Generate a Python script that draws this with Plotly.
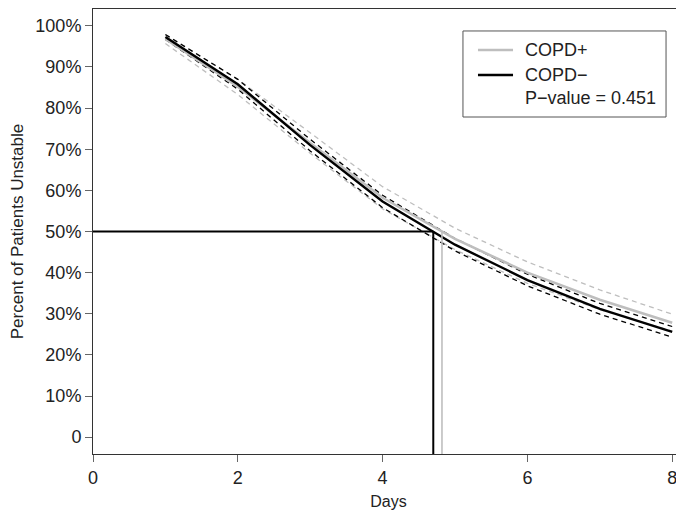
import plotly.graph_objects as go

# Days and percent of patients still unstable
days = [1, 2, 3, 4, 5, 6, 7, 8]

copd_plus = [96.8, 85.2, 71.5, 58.2, 48.2, 40.0, 33.4, 27.8]
copd_plus_lo = [95.7, 83.3, 69.0, 55.5, 45.6, 37.4, 31.0, 25.8]
copd_plus_hi = [97.8, 87.0, 74.0, 60.9, 50.8, 42.6, 35.8, 29.9]

copd_minus = [97.3, 85.8, 71.0, 57.3, 46.8, 38.2, 31.2, 25.6]
copd_minus_lo = [96.7, 84.6, 69.6, 55.8, 45.3, 36.8, 29.9, 24.3]
copd_minus_hi = [97.9, 87.0, 72.4, 58.8, 48.3, 39.6, 32.5, 26.9]

# median time to stability for each group
median_plus = 4.82
median_minus = 4.70
median_level = 50

y_ticks = [0, 10, 20, 30, 40, 50, 60, 70, 80, 90, 100]
y_labels = ["0", "10%", "20%", "30%", "40%", "50%", "60%", "70%", "80%", "90%", "100%"]
x_ticks = [0, 2, 4, 6, 8]

legend_names = ["COPD+", "COPD\u2212"]
p_value_text = "P\u2212value = 0.451"

y_min, y_max = -4.1, 104.1

GRAY = "#bebebe"
FONT = "Liberation Sans, Arial, sans-serif"

fig = go.Figure()

# confidence bands (dashed)
for lo_hi, col in [((copd_plus_lo, copd_plus_hi), GRAY), ((copd_minus_lo, copd_minus_hi), "black")]:
    for band in lo_hi:
        fig.add_scatter(x=days, y=band, mode="lines", showlegend=False, hoverinfo="skip",
                        line=dict(color=col, width=1.3, dash="5px,4px"))

fig.add_scatter(x=days, y=copd_plus, mode="lines", name=legend_names[0], showlegend=False,
                line=dict(color=GRAY, width=2.6))
fig.add_scatter(x=days, y=copd_minus, mode="lines", name=legend_names[1], showlegend=False,
                line=dict(color="black", width=2.4))

# median reference lines
fig.add_scatter(x=[0, median_minus], y=[median_level, median_level], mode="lines",
                showlegend=False, line=dict(color="black", width=1.8))
fig.add_scatter(x=[median_minus, median_minus], y=[median_level, y_min], mode="lines",
                showlegend=False, line=dict(color="black", width=2))
fig.add_scatter(x=[median_plus, median_plus], y=[median_level, y_min], mode="lines",
                showlegend=False, line=dict(color=GRAY, width=1.6))

# hand-drawn legend box (R style)
fig.add_shape(type="rect", xref="paper", yref="paper", x0=0.626, x1=0.9696, y0=0.7573, y1=0.9506,
              line=dict(color="#555", width=1), fillcolor="white", layer="above")
for name, col, yy in [(legend_names[0], GRAY, 0.9079), (legend_names[1], "black", 0.8517)]:
    fig.add_shape(type="line", xref="paper", yref="paper", x0=0.6514, x1=0.7107, y0=yy, y1=yy,
                  line=dict(color=col, width=2.6), layer="above")
    fig.add_annotation(xref="paper", yref="paper", x=0.7276, y=yy, text=name, showarrow=False,
                       xanchor="left", yanchor="middle", font=dict(size=18))
fig.add_annotation(xref="paper", yref="paper", x=0.7276, y=0.80, text=p_value_text, showarrow=False,
                   xanchor="left", yanchor="middle", font=dict(size=18))

fig.update_xaxes(range=[0, 8.163], tickvals=x_ticks, ticks="outside", ticklen=7,
                 tickcolor="#666", showline=True, linecolor="#333", linewidth=1, mirror=True,
                 showgrid=False, zeroline=False, automargin=False,
                 title=dict(text="Days", standoff=9, font=dict(size=16)),
                 tickfont=dict(size=18))
fig.update_yaxes(range=[y_min, y_max], tickvals=y_ticks, ticktext=y_labels, ticks="outside",
                 ticklen=7, tickcolor="#666", showline=True, linecolor="#333", linewidth=1,
                 showgrid=False, zeroline=False, automargin=False,
                 title=dict(text="Percent of Patients Unstable", standoff=11, font=dict(size=17)),
                 tickfont=dict(size=18))

# page body adds an 8px offset, so the figure is 8px smaller than the window
fig.update_layout(
    width=676, height=504,
    margin=dict(l=85, r=0, t=1, b=58),
    plot_bgcolor="white", paper_bgcolor="white",
    font=dict(family=FONT, size=16, color="#222"),
    showlegend=False,
)

fig.write_html("out.html")
